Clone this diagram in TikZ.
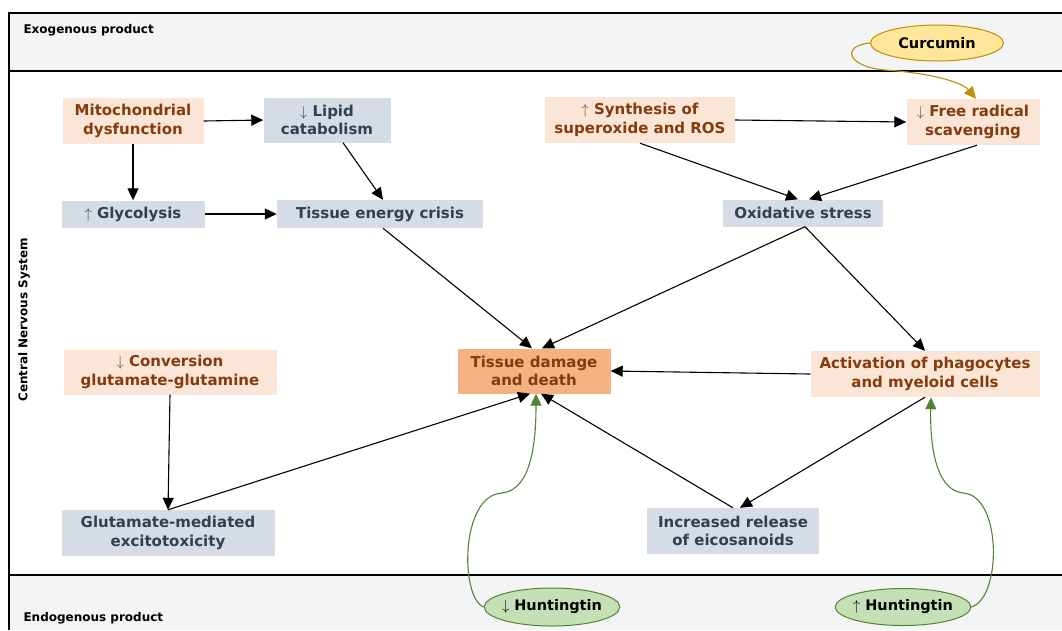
\documentclass[tikz,border=0pt]{standalone}
\usepackage{fontspec}
\setmainfont{DejaVu Sans}
\usetikzlibrary{arrows.meta,shapes.geometric}

\definecolor{Band}{HTML}{F3F4F6}
\definecolor{Peach}{HTML}{FBE5D6}
\definecolor{PeachDark}{HTML}{F4B183}
\definecolor{Rust}{HTML}{843C0C}
\definecolor{Slate}{HTML}{D6DCE5}
\definecolor{SlateInk}{HTML}{333F50}
\definecolor{Gold}{HTML}{FFE699}
\definecolor{GoldLine}{HTML}{BF9000}
\definecolor{Leaf}{HTML}{C5E0B4}
\definecolor{LeafLine}{HTML}{548235}

\begin{document}
\begin{tikzpicture}[x=1pt, y=-1pt,
  box/.style={align=center, inner sep=0pt, font=\fontsize{15}{18.5}\selectfont\bfseries},
  warm/.style={box, fill=Peach, text=Rust},
  hot/.style={box, fill=PeachDark, text=Rust},
  cool/.style={box, fill=Slate, text=SlateInk},
  pill/.style={ellipse, draw, line width=1pt, inner sep=-2pt, font=\fontsize{14.5}{18}\selectfont\bfseries},
  lane/.style={font=\fontsize{12}{14}\selectfont\bfseries},
  arr/.style={-{Triangle[length=12pt,width=11pt]}, line width=1.1pt},
  curvy/.style={-{Triangle[length=12pt,width=11pt]}, line width=1.1pt}]

 \useasboundingbox (0,0) rectangle (1062,630);

 %%%%%%%%%% Bands %%%%%%%%%%
 \fill [color=Band] (9,13) rectangle (1062,71);
 \fill [color=Band] (9,575) rectangle (1062,630);
 \draw [line width=1.8] (1062,13) -- (9,13) -- (9,630);
 \draw [line width=1.8] (9,71) -- (1062,71);
 \draw [line width=1.8] (9,575) -- (1062,575);

 \node [lane, anchor=west] (exo) at (20,30) {Exogenous product};
 \node [lane, anchor=west] (endo) at (20,618) {Endogenous product};
 \node [lane, rotate=90] (cns) at (24,320) {Central Nervous System};

 %%%%%%%%%% Boxes %%%%%%%%%%
 \node [warm, minimum width=141, minimum height=46] (mito) at (133,121) {Mitochondrial\\dysfunction};
 \node [cool, minimum width=127, minimum height=45] (lipid) at (327,120) {$\downarrow$ Lipid\\catabolism};
 \node [cool, minimum width=143, minimum height=27] (glyco) at (133,214) {$\uparrow$ Glycolysis};
 \node [cool, minimum width=206, minimum height=28] (crisis) at (380,214) {Tissue energy crisis};
 \node [warm, minimum width=190, minimum height=46] (synth) at (640,120) {$\uparrow$ Synthesis of\\superoxide and ROS};
 \node [warm, minimum width=133, minimum height=46] (scav) at (973,122) {$\downarrow$ Free radical\\scavenging};
 \node [cool, minimum width=160, minimum height=27] (oxid) at (803,213) {Oxidative stress};
 \node [hot, minimum width=153, minimum height=45] (damage) at (534,371) {Tissue damage\\and death};
 \node [warm, minimum width=229, minimum height=46] (phago) at (925,374) {Activation of phagocytes\\and myeloid cells};
 \node [warm, minimum width=213, minimum height=45] (conv) at (170,372) {$\downarrow$ Conversion\\glutamate-glutamine};
 \node [cool, minimum width=213, minimum height=46] (exci) at (168,533) {Glutamate-mediated\\excitotoxicity};
 \node [cool, minimum width=172, minimum height=46] (eico) at (733,531) {Increased release\\of eicosanoids};

 %%%%%%%%%% Products %%%%%%%%%%
 \node [pill, fill=Gold, draw=GoldLine, minimum width=133, minimum height=36] (curc) at (937,43) {Curcumin};
 \node [pill, fill=Leaf, draw=LeafLine, minimum width=135, minimum height=38] (hdown) at (552,607) {$\downarrow$ Huntingtin};
 \node [pill, fill=Leaf, draw=LeafLine, minimum width=129, minimum height=37] (hup) at (903,607) {$\uparrow$ Huntingtin};

 % kinks of the curved links
 \coordinate (kd) at (502,493);
 \coordinate (ku) at (963,493);
 \coordinate (kc) at (885,70);

 %%%%%%%%%% Arrows %%%%%%%%%%
 \draw [arr] (mito.east) -- (lipid.west);
 \draw [arr] (mito.south) -- (glyco.north);
 \draw [arr] (glyco.east) -- (crisis.west);
 \draw [arr] ([xshift=16]lipid.south) -- ([xshift=3]crisis.north);
 \draw [arr] ([xshift=3]crisis.south) -- ([xshift=-2]damage.north);
 \draw [arr] (synth.south) -- ([xshift=-5]oxid.north);
 \draw [arr] (synth.east) -- (scav.west);
 \draw [arr] ([xshift=4]scav.south) -- ([xshift=6]oxid.north);
 \draw [arr] ([xshift=2]oxid.south) -- ([xshift=8]damage.north);
 \draw [arr] ([xshift=2]oxid.south) -- (phago.north);
 \draw [arr] (phago.west) -- (damage.east);
 \draw [arr] (phago.south) -- ([xshift=7]eico.north);
 \draw [arr] (eico.north) -- ([xshift=7]damage.south);
 \draw [arr] (conv.south) -- (exci.north);
 \draw [arr] (exci.north) -- ([xshift=-4]damage.south);

 %%%%%%%%%% Curved links %%%%%%%%%%
 \draw [curvy, color=GoldLine] (curc.west) .. controls (840,46) and (848,67) .. (kc)
   .. controls (930,73) and (962,82) .. ([xshift=3]scav.north);
 \draw [curvy, color=LeafLine] (hdown.west) .. controls (460,598) and (460,495) .. (kd)
   .. controls (532,490) and (536,440) .. ([xshift=2]damage.south);
 \draw [curvy, color=LeafLine] (hup.east) .. controls (1002,598) and (1002,495) .. (ku)
   .. controls (934,490) and (930,440) .. ([xshift=6]phago.south);

\end{tikzpicture}
\end{document}
